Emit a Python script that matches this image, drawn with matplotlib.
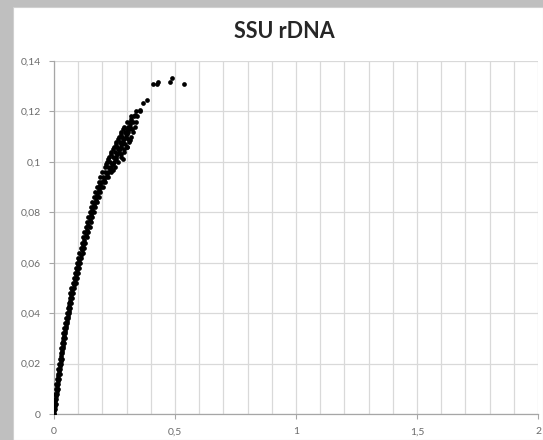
import matplotlib
matplotlib.use('Agg')
import matplotlib.pyplot as plt
from matplotlib.patches import Rectangle
from matplotlib.ticker import MultipleLocator, FuncFormatter

plt.rcParams['font.family'] = ['Lato', 'DejaVu Sans']

# band of points, read level by level: y level, left and right edge of the cloud
band_y = [0.000, 0.002, 0.004, 0.006, 0.008, 0.010, 0.012, 0.014, 0.016, 0.018,
          0.020, 0.022, 0.024, 0.026, 0.028, 0.030, 0.032, 0.034, 0.036, 0.038,
          0.040, 0.042, 0.044, 0.046, 0.048, 0.050, 0.052, 0.054, 0.056, 0.058,
          0.060, 0.062, 0.064, 0.066, 0.068, 0.070, 0.072, 0.074, 0.076, 0.078,
          0.080, 0.082, 0.084, 0.086, 0.088, 0.090, 0.092, 0.094, 0.096, 0.098,
          0.100, 0.102, 0.104, 0.106, 0.108, 0.110, 0.112, 0.114, 0.116, 0.118,
          0.120]
band_left = [0.000, 0.000, 0.001, 0.004, 0.006, 0.008, 0.010, 0.013, 0.015, 0.018,
             0.021, 0.024, 0.027, 0.030, 0.033, 0.036, 0.039, 0.043, 0.046, 0.050,
             0.053, 0.057, 0.061, 0.065, 0.068, 0.072, 0.077, 0.081, 0.086, 0.091,
             0.096, 0.101, 0.105, 0.110, 0.116, 0.121, 0.125, 0.131, 0.136, 0.142,
             0.147, 0.153, 0.159, 0.165, 0.171, 0.177, 0.185, 0.192, 0.200, 0.209,
             0.218, 0.227, 0.236, 0.246, 0.257, 0.268, 0.278, 0.288, 0.300, 0.318,
             0.340]
band_right = [0.002, 0.005, 0.007, 0.010, 0.012, 0.016, 0.018, 0.021, 0.023, 0.026,
              0.029, 0.032, 0.035, 0.038, 0.041, 0.044, 0.047, 0.051, 0.054, 0.058,
              0.063, 0.067, 0.071, 0.075, 0.080, 0.084, 0.089, 0.093, 0.098, 0.103,
              0.108, 0.113, 0.119, 0.124, 0.130, 0.135, 0.141, 0.147, 0.152, 0.158,
              0.164, 0.171, 0.177, 0.185, 0.191, 0.202, 0.212, 0.224, 0.236, 0.250,
              0.265, 0.278, 0.290, 0.300, 0.310, 0.318, 0.326, 0.333, 0.338, 0.345,
              0.355]

# middle of the narrow lower band, read between the levels above
mid_y = [0.001, 0.003, 0.005, 0.007, 0.009, 0.011, 0.013, 0.015, 0.017, 0.019,
         0.021, 0.023, 0.025, 0.027, 0.029, 0.031, 0.033, 0.035, 0.037, 0.039,
         0.041, 0.043, 0.045, 0.047, 0.049, 0.051, 0.053, 0.055, 0.057, 0.059,
         0.061, 0.063, 0.065, 0.067, 0.069, 0.071, 0.073, 0.075, 0.077, 0.079,
         0.081, 0.083, 0.085, 0.087, 0.089]
mid_x = [0.002, 0.003, 0.006, 0.008, 0.011, 0.013, 0.016, 0.018, 0.021, 0.024,
         0.027, 0.030, 0.033, 0.036, 0.039, 0.042, 0.045, 0.049, 0.052, 0.056,
         0.060, 0.064, 0.068, 0.072, 0.076, 0.081, 0.085, 0.090, 0.095, 0.100,
         0.105, 0.110, 0.115, 0.120, 0.126, 0.131, 0.136, 0.142, 0.147, 0.153,
         0.159, 0.165, 0.172, 0.178, 0.185]

# points inside the wider upper part of the cloud
fill_x = [0.155, 0.162, 0.168, 0.175, 0.181, 0.185, 0.194, 0.193, 0.203, 0.202,
          0.213, 0.212, 0.224, 0.222, 0.235, 0.232, 0.247, 0.242, 0.257, 0.251,
          0.267, 0.261, 0.277, 0.272, 0.287, 0.282, 0.297, 0.293, 0.307, 0.304,
          0.316, 0.316, 0.325, 0.330,
          0.190, 0.205, 0.220, 0.230, 0.245, 0.250, 0.262, 0.265, 0.280, 0.285,
          0.298, 0.300, 0.312, 0.318,
          0.215, 0.240, 0.225, 0.255, 0.235, 0.262, 0.275, 0.245, 0.272, 0.290,
          0.255, 0.278, 0.295, 0.265, 0.290, 0.305, 0.275, 0.300, 0.285, 0.310,
          0.322]
fill_y = [0.080, 0.082, 0.084, 0.086, 0.088, 0.090, 0.090, 0.092, 0.092, 0.094,
          0.094, 0.096, 0.096, 0.098, 0.098, 0.100, 0.100, 0.102, 0.102, 0.104,
          0.104, 0.106, 0.106, 0.108, 0.108, 0.110, 0.110, 0.112, 0.112, 0.114,
          0.114, 0.116, 0.116, 0.118,
          0.091, 0.093, 0.095, 0.097, 0.099, 0.101, 0.103, 0.105, 0.107, 0.109,
          0.111, 0.113, 0.115, 0.117,
          0.099, 0.099, 0.101, 0.101, 0.103, 0.103, 0.103, 0.105, 0.105, 0.105,
          0.107, 0.107, 0.107, 0.109, 0.109, 0.109, 0.111, 0.111, 0.113, 0.113,
          0.113]

# stray points right of the cloud and the sparse tail
tail_x = [0.244, 0.285, 0.300, 0.315, 0.335, 0.355, 0.369, 0.385,
          0.410, 0.424, 0.428, 0.479, 0.486, 0.537]
tail_y = [0.0968, 0.101, 0.106, 0.1085, 0.1186, 0.1206, 0.1233, 0.1245,
          0.1308, 0.131, 0.1316, 0.1318, 0.1333, 0.131]

x_ticks = [0, 0.5, 1, 1.5, 2]
y_ticks = [0, 0.02, 0.04, 0.06, 0.08, 0.1, 0.12, 0.14]

fig = plt.figure(figsize=(5.43, 4.40), dpi=100)
fig.patch.set_facecolor('#bfbfbf')
fig.patches.append(Rectangle((12.5/543, 0), 1 - 12.5/543, 1 - 7.5/440,
                             transform=fig.transFigure, facecolor='white',
                             edgecolor='#d0d0d0', lw=0.8, zorder=-5))

ax = fig.add_axes([54/543, 1 - 414/440, (538 - 54)/543, (414 - 61)/440])
ax.set_zorder(2)
ax.set_facecolor('none')

mk = dict(color='black', marker='o', ms=3.4, mew=0, linestyle='none', zorder=3)
ax.plot(band_left, band_y, **mk)
ax.plot(band_right, band_y, **mk)
ax.plot(mid_x, mid_y, **mk)
ax.plot(fill_x, fill_y, **mk)
ax.plot(tail_x, tail_y, **mk)

ax.set_xlim(0, 2)
ax.set_ylim(0, 0.14)
ax.set_xticks(x_ticks)
ax.set_yticks(y_ticks)
ax.xaxis.set_minor_locator(MultipleLocator(0.1))
fmt = FuncFormatter(lambda v, p: ('%g' % v).replace('.', ','))
ax.xaxis.set_major_formatter(fmt)
ax.yaxis.set_major_formatter(fmt)

ax.grid(True, which='major', color='#d9d9d9', lw=0.9)
ax.grid(True, which='minor', axis='x', color='#d9d9d9', lw=0.9)
ax.set_axisbelow(True)

for s in ['top', 'right']:
    ax.spines[s].set_visible(False)
for s in ['left', 'bottom']:
    ax.spines[s].set_color('#a6a6a6')
    ax.spines[s].set_linewidth(0.9)
ax.tick_params(which='major', length=3.5, width=0.8, color='#a6a6a6',
               labelsize=7.5, labelcolor='#6b6b6b', pad=6)
ax.tick_params(which='minor', length=0)

fig.text(284/543, 1 - 31/440, 'SSU rDNA', ha='center', va='center',
         fontsize=15.5, fontweight='bold', color='#262626')

plt.savefig('out.png', dpi=100, facecolor=fig.get_facecolor())
